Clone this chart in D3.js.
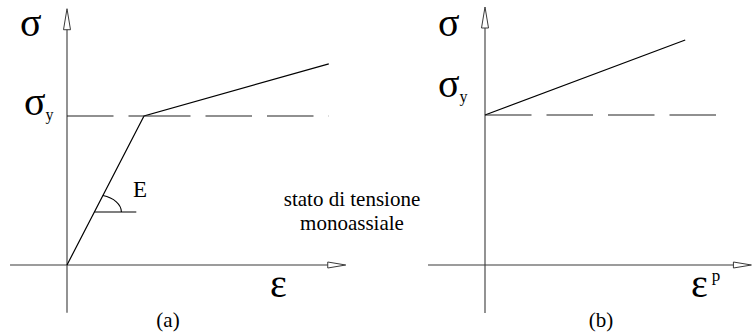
<!DOCTYPE html>
<html>
<head>
<meta charset="utf-8">
<script src="https://cdn.jsdelivr.net/npm/d3@7"></script>
<style>
  html, body { margin: 0; padding: 0; background: #fff; }
  svg { display: block; }
</style>
</head>
<body>
<svg id="chart" width="752" height="332"></svg>
<script>
// (a) total strain vs stress: elastic branch then linear hardening
const strainA = [0, 1, 3.4];
const stressA = [0, 1, 1.35];
// (b) plastic strain vs stress: hardening starts at the yield stress
const strainB = [0, 2.6];
const stressB = [1, 1.5];
// yield stress reference lines (dashed), strain extents
const yieldStress = 1;
const yieldLineA = [0, 3.4];
const yieldLineB = [0, 3.0];
// axis extents [min, max] in each panel's units
const axisStrainA = [-0.74, 3.62];
const axisStressA = [-0.32, 1.72];
const axisStrainB = [-0.74, 3.46];
const axisStressB = [-0.32, 1.72];
// stress level where the modulus angle E is marked, and its tick end
const angleStress = 0.356;
const angleTickEnd = 0.9;
// labels
const panelLabels = ["(a)", "(b)"];
const noteLines = ["stato di tensione", "monoassiale"];

const SERIF = "'Liberation Serif', 'DejaVu Serif', 'Times New Roman', serif";
const svg = d3.select("#chart").attr("font-family", SERIF);

const panels = [
  {
    x: d3.scaleLinear().domain([0, 1]).range([67, 144]),
    y: d3.scaleLinear().domain([0, 1]).range([265, 116]),
    strain: strainA, stress: stressA, yieldLine: yieldLineA,
    axStrain: axisStrainA, axStress: axisStressA, label: panelLabels[0], labelX: 168
  },
  {
    x: d3.scaleLinear().domain([0, 1]).range([485, 562]),
    y: d3.scaleLinear().domain([0, 1]).range([265, 115]),
    strain: strainB, stress: stressB, yieldLine: yieldLineB,
    axStrain: axisStrainB, axStress: axisStressB, label: panelLabels[1], labelX: 601
  }
];

const axisColor = "#3a3a3a";

function drawAxes(g, p) {
  const x0 = p.x(0), y0 = p.y(0);
  const xMin = p.x(p.axStrain[0]), xMax = p.x(p.axStrain[1]);
  const yMin = p.y(p.axStress[0]), yMax = p.y(p.axStress[1]);
  // vertical (stress) axis with open arrow head
  g.append("line").attr("x1", x0).attr("x2", x0).attr("y1", yMin).attr("y2", yMax + 20)
    .attr("stroke", axisColor).attr("stroke-width", 1.1);
  g.append("path")
    .attr("d", `M${x0},${yMax} L${x0 - 3.5},${yMax + 21} L${x0 + 3.5},${yMax + 21} Z`)
    .attr("fill", "#fff").attr("stroke", axisColor).attr("stroke-width", 1);
  // horizontal (strain) axis with open arrow head
  g.append("line").attr("x1", xMin).attr("x2", xMax - 17).attr("y1", y0).attr("y2", y0)
    .attr("stroke", axisColor).attr("stroke-width", 1.1);
  g.append("path")
    .attr("d", `M${xMax},${y0} L${xMax - 18},${y0 - 3} L${xMax - 18},${y0 + 3} Z`)
    .attr("fill", "#fff").attr("stroke", axisColor).attr("stroke-width", 1);
}

function drawDashed(g, p, s0, s1) {
  g.append("line")
    .attr("x1", p.x(s0)).attr("x2", p.x(s1))
    .attr("y1", p.y(yieldStress)).attr("y2", p.y(yieldStress))
    .attr("stroke", "#222").attr("stroke-width", 1.1)
    .attr("stroke-dasharray", "46.5,15");
}

panels.forEach(p => {
  const g = svg.append("g");
  drawAxes(g, p);
  // constitutive curve
  const line = d3.line().x(d => p.x(d[0])).y(d => p.y(d[1]));
  g.append("path")
    .datum(d3.zip(p.strain, p.stress))
    .attr("d", line)
    .attr("fill", "none").attr("stroke", "#000").attr("stroke-width", 1.2);
  // panel label
  g.append("text")
    .attr("x", p.labelX)
    .attr("y", 327)
    .attr("text-anchor", "middle")
    .attr("font-size", 21)
    .text(p.label);
});

// dashed yield lines; in (a) the dash pattern restarts at the yield point
const pa = panels[0], pb = panels[1];
const g0 = svg.append("g");
drawDashed(g0, pa, yieldLineA[0], strainA[1]);
drawDashed(g0, pa, strainA[1], yieldLineA[1]);
drawDashed(g0, pb, yieldLineB[0], yieldLineB[1]);

// modulus angle E in (a)
const angleStrain = angleStress * strainA[1] / stressA[1];
const cx = pa.x(angleStrain), cy = pa.y(angleStress);
g0.append("line")
  .attr("x1", cx).attr("x2", pa.x(angleTickEnd))
  .attr("y1", cy).attr("y2", cy)
  .attr("stroke", "#000").attr("stroke-width", 1.1);
const ang = Math.atan2(pa.y(0) - pa.y(stressA[1]), pa.x(strainA[1]) - pa.x(0));
const rx = 27, ry = 17.3;
const tEnd = 1 / Math.sqrt((Math.cos(ang) / rx) ** 2 + (Math.sin(ang) / ry) ** 2);
g0.append("path")
  .attr("d", `M${cx + rx},${cy} A${rx},${ry} 0 0 0 ${cx + tEnd * Math.cos(ang)},${cy - tEnd * Math.sin(ang)}`)
  .attr("fill", "none").attr("stroke", "#000").attr("stroke-width", 1.1);
g0.append("text").attr("x", 133).attr("y", 197).attr("font-size", 23).text("E");

// axis symbols
const sym = svg.append("g");
sym.append("text").attr("x", 20).attr("y", 36).attr("font-size", 40).text("σ");
sym.append("text").attr("x", 438).attr("y", 36).attr("font-size", 40).text("σ");
const sy1 = sym.append("text").attr("x", 24).attr("y", pa.y(yieldStress) - 1).attr("font-size", 40);
sy1.append("tspan").text("σ");
sy1.append("tspan").attr("font-size", 16).attr("dy", 5).text("y");
const sy2 = sym.append("text").attr("x", 438).attr("y", 97).attr("font-size", 40);
sy2.append("tspan").text("σ");
sy2.append("tspan").attr("font-size", 16).attr("dy", 5).text("y");
sym.append("text").attr("x", 270).attr("y", 297).attr("font-size", 40).text("ε");
const ep = sym.append("text").attr("x", 691).attr("y", 297).attr("font-size", 40);
ep.append("tspan").text("ε");
ep.append("tspan").attr("font-size", 17).attr("dx", 4).attr("dy", -16).text("p");

// note between the panels
const note = svg.append("text").attr("text-anchor", "middle").attr("font-size", 21);
noteLines.forEach((t, i) => {
  note.append("tspan").attr("x", 352).attr("y", 206 + i * 24).text(t);
});
</script>
</body>
</html>
